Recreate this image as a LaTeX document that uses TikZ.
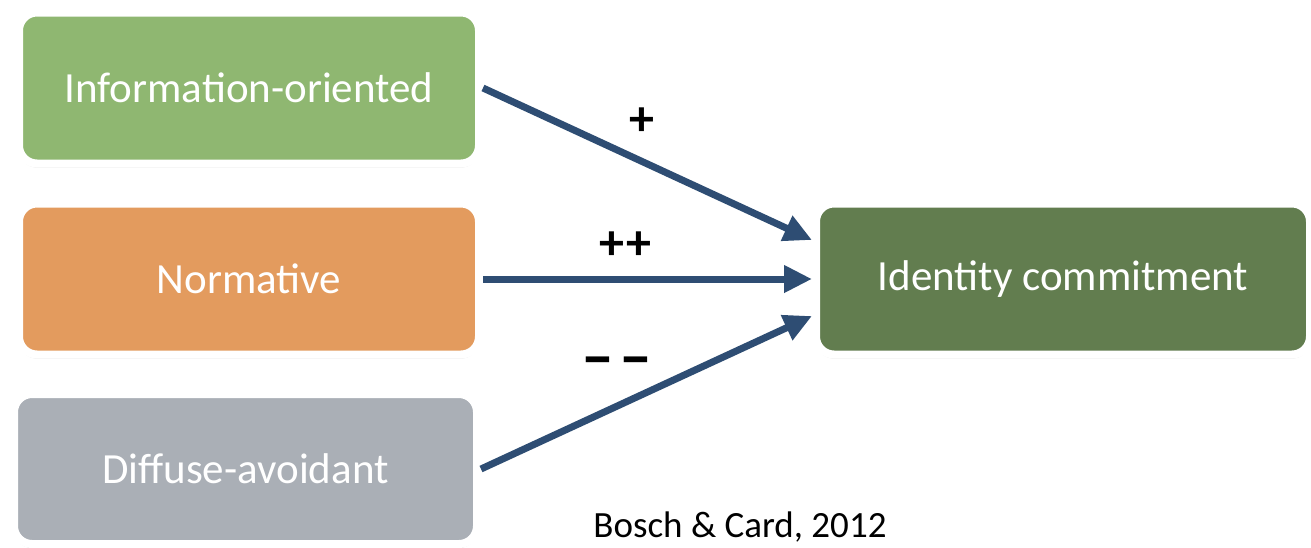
\documentclass[tikz,border=0pt]{standalone}
\usepackage{fontspec}
\setmainfont{Carlito}
\usetikzlibrary{arrows.meta,shadows}
\definecolor{infogreen}{HTML}{8FB771}
\definecolor{normorange}{HTML}{E39B5E}
\definecolor{diffgrey}{HTML}{AAAFB6}
\definecolor{identgreen}{HTML}{627D4F}
\definecolor{arrowblue}{HTML}{2E4D73}
\tikzset{
    stylebox/.style={rectangle,rounded corners=18pt,draw=white,line width=8pt,
        text=white,font=\fontsize{43}{47}\selectfont,
        minimum width=460pt,minimum height=151pt,
        drop shadow={shadow xshift=0pt,shadow yshift=-4pt,opacity=0.3}},
    effect/.style={arrowblue,line width=7pt,-{Triangle[length=28pt,width=26pt]}},
    sign/.style={font=\fontsize{50}{54}\selectfont\bfseries}
}
\begin{document}
\begin{tikzpicture}[x=1pt,y=-1pt]
        \useasboundingbox (0,0) rectangle (1311,547);
        \fill[white] (0,0) rectangle (1311,547);
        \begin{scope}
            \node[stylebox,fill=infogreen] (info) at (249,88) {Information-oriented};
            \node[stylebox,fill=normorange] (norm) at (249,279) {Normative};
            \node[stylebox,fill=diffgrey,minimum width=463pt,minimum height=150pt] (diff) at (245.5,469) {Diffuse-avoidant};
            \node[stylebox,fill=identgreen,minimum width=494pt] (ident) at (1063,279) {Identity commitment};
        \end{scope}
        \draw[effect] (info.east) -- ([yshift=39pt]ident.west);
        \draw[effect] (norm.east) -- (ident.west);
        \draw[effect] (diff.east) -- ([yshift=-37pt]ident.west);
        \node[sign] (plus) at (642,122) {+};
        \node[sign] (plusplus) at (625,246) {+\kern2pt+};
        \node[sign,font=\fontsize{66}{70}\selectfont\bfseries] (minusminus) at (617,368) {–\kern6pt–};
        \node[font=\fontsize{37}{40}\selectfont] (source) at (740,527) {Bosch \& Card, 2012};
    \end{tikzpicture}
\end{document}
